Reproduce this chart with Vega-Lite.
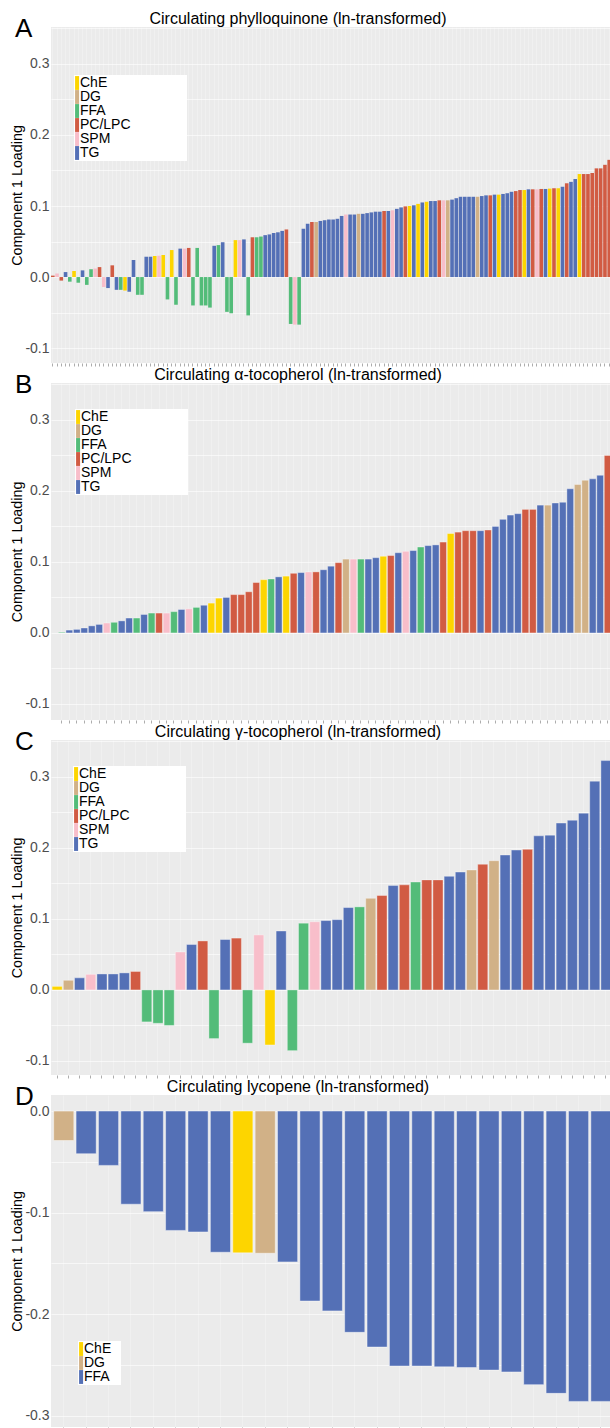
{
  "$schema": "https://vega.github.io/schema/vega-lite/v6.json",
  "padding": {"left": 10, "top": 11, "right": 0, "bottom": 0},
  "spacing": 0,
  "config": {
    "font": "Liberation Sans",
    "view": {"fill": "#EBEBEB", "stroke": null},
    "axisY": {"labelFontSize": 14, "labelColor": "#4D4D4D", "labelPadding": 2, "ticks": false, "domain": false, "titleFontSize": 14.3, "titleFontWeight": "normal", "titleColor": "black", "titlePadding": 0, "gridColor": "#ffffff", "gridOpacity": 0.6, "gridWidth": 1},
    "axisX": {"ticks": true, "tickSize": 3, "tickColor": "#8a8a8a", "tickWidth": 0.7, "labels": false, "domain": false, "gridColor": "#ffffff", "gridOpacity": 0.45, "gridWidth": 0.6, "titleFontSize": 26, "titleFontWeight": "normal", "titleColor": "black", "titleAlign": "left", "titleBaseline": "alphabetic", "titleAngle": 0, "titleX": -36.4},
    "title": {"fontSize": 16, "fontWeight": "normal", "color": "black", "anchor": "middle", "frame": "group"},
    "legend": {"labelFontSize": 14, "labelColor": "black", "symbolSize": 192, "symbolStrokeWidth": 0, "symbolOpacity": 1, "labelOffset": -9, "padding": 1, "fillColor": "white", "rowPadding": -0.5, "labelLimit": 300}
  },
  "resolve": {"scale": {"color": "independent", "x": "independent", "y": "independent"}, "legend": {"color": "independent"}},
  "datasets": {
    "A": [
      {"i":1,"v":0.002,"c":"PC/LPC"},{"i":2,"v":0.005,"c":"SPM"},{"i":3,"v":-0.005,"c":"PC/LPC"},{"i":4,"v":0.007,"c":"TG"},{"i":5,"v":-0.0065,"c":"FFA"},
      {"i":6,"v":0.0085,"c":"ChE"},{"i":7,"v":-0.008,"c":"FFA"},{"i":8,"v":0.0094,"c":"TG"},{"i":9,"v":-0.011,"c":"FFA"},{"i":10,"v":0.011,"c":"FFA"},
      {"i":11,"v":0.012,"c":"SPM"},{"i":12,"v":0.014,"c":"PC/LPC"},{"i":13,"v":-0.014,"c":"SPM"},{"i":14,"v":-0.0155,"c":"TG"},{"i":15,"v":0.0165,"c":"PC/LPC"},
      {"i":16,"v":-0.018,"c":"TG"},{"i":17,"v":-0.018,"c":"FFA"},{"i":18,"v":-0.019,"c":"ChE"},{"i":19,"v":-0.0207,"c":"TG"},{"i":20,"v":0.024,"c":"TG"},
      {"i":21,"v":-0.025,"c":"FFA"},{"i":22,"v":-0.025,"c":"FFA"},{"i":23,"v":0.0286,"c":"TG"},{"i":24,"v":0.0286,"c":"TG"},{"i":25,"v":0.0296,"c":"ChE"},
      {"i":26,"v":0.03,"c":"SPM"},{"i":27,"v":0.031,"c":"ChE"},{"i":28,"v":-0.0315,"c":"FFA"},{"i":29,"v":0.038,"c":"ChE"},{"i":30,"v":-0.039,"c":"FFA"},
      {"i":31,"v":0.04,"c":"TG"},{"i":32,"v":0.04,"c":"SPM"},{"i":33,"v":0.041,"c":"PC/LPC"},{"i":34,"v":-0.04,"c":"FFA"},{"i":35,"v":0.041,"c":"FFA"},
      {"i":36,"v":-0.04,"c":"FFA"},{"i":37,"v":-0.04,"c":"FFA"},{"i":38,"v":-0.043,"c":"FFA"},{"i":39,"v":0.044,"c":"TG"},{"i":40,"v":0.045,"c":"FFA"},
      {"i":41,"v":0.049,"c":"TG"},{"i":42,"v":-0.049,"c":"FFA"},{"i":43,"v":-0.051,"c":"FFA"},{"i":44,"v":0.052,"c":"ChE"},{"i":45,"v":0.052,"c":"SPM"},
      {"i":46,"v":0.053,"c":"TG"},{"i":47,"v":-0.054,"c":"FFA"},{"i":48,"v":0.056,"c":"PC/LPC"},{"i":49,"v":0.056,"c":"FFA"},{"i":50,"v":0.057,"c":"FFA"},
      {"i":51,"v":0.059,"c":"TG"},{"i":52,"v":0.06,"c":"TG"},{"i":53,"v":0.062,"c":"TG"},{"i":54,"v":0.063,"c":"TG"},{"i":55,"v":0.065,"c":"TG"},
      {"i":56,"v":0.067,"c":"PC/LPC"},{"i":57,"v":-0.066,"c":"FFA"},{"i":58,"v":-0.067,"c":"SPM"},{"i":59,"v":-0.067,"c":"FFA"},{"i":60,"v":0.068,"c":"TG"},
      {"i":61,"v":0.075,"c":"TG"},{"i":62,"v":0.0775,"c":"PC/LPC"},{"i":63,"v":0.0775,"c":"DG"},{"i":64,"v":0.079,"c":"TG"},{"i":65,"v":0.08,"c":"TG"},
      {"i":66,"v":0.081,"c":"TG"},{"i":67,"v":0.081,"c":"TG"},{"i":68,"v":0.082,"c":"TG"},{"i":69,"v":0.086,"c":"TG"},{"i":70,"v":0.088,"c":"SPM"},
      {"i":71,"v":0.088,"c":"TG"},{"i":72,"v":0.088,"c":"TG"},{"i":73,"v":0.089,"c":"DG"},{"i":74,"v":0.089,"c":"TG"},{"i":75,"v":0.09,"c":"TG"},
      {"i":76,"v":0.091,"c":"TG"},{"i":77,"v":0.092,"c":"TG"},{"i":78,"v":0.092,"c":"TG"},{"i":79,"v":0.093,"c":"PC/LPC"},{"i":80,"v":0.093,"c":"TG"},
      {"i":81,"v":0.094,"c":"SPM"},{"i":82,"v":0.096,"c":"TG"},{"i":83,"v":0.098,"c":"TG"},{"i":84,"v":0.0995,"c":"PC/LPC"},{"i":85,"v":0.1,"c":"ChE"},
      {"i":86,"v":0.101,"c":"TG"},{"i":87,"v":0.103,"c":"ChE"},{"i":88,"v":0.105,"c":"TG"},{"i":89,"v":0.106,"c":"ChE"},{"i":90,"v":0.107,"c":"TG"},
      {"i":91,"v":0.107,"c":"TG"},{"i":92,"v":0.108,"c":"PC/LPC"},{"i":93,"v":0.108,"c":"SPM"},{"i":94,"v":0.108,"c":"DG"},{"i":95,"v":0.109,"c":"TG"},
      {"i":96,"v":0.111,"c":"TG"},{"i":97,"v":0.113,"c":"TG"},{"i":98,"v":0.113,"c":"TG"},{"i":99,"v":0.113,"c":"TG"},{"i":100,"v":0.113,"c":"TG"},
      {"i":101,"v":0.113,"c":"DG"},{"i":102,"v":0.114,"c":"TG"},{"i":103,"v":0.115,"c":"TG"},{"i":104,"v":0.115,"c":"PC/LPC"},{"i":105,"v":0.116,"c":"TG"},
      {"i":106,"v":0.116,"c":"ChE"},{"i":107,"v":0.117,"c":"TG"},{"i":108,"v":0.118,"c":"TG"},{"i":109,"v":0.12,"c":"TG"},{"i":110,"v":0.121,"c":"PC/LPC"},
      {"i":111,"v":0.1225,"c":"PC/LPC"},{"i":112,"v":0.1225,"c":"ChE"},{"i":113,"v":0.1235,"c":"TG"},{"i":114,"v":0.1235,"c":"PC/LPC"},{"i":115,"v":0.1235,"c":"SPM"},
      {"i":116,"v":0.124,"c":"PC/LPC"},{"i":117,"v":0.124,"c":"TG"},{"i":118,"v":0.1245,"c":"ChE"},{"i":119,"v":0.125,"c":"PC/LPC"},{"i":120,"v":0.125,"c":"ChE"},
      {"i":121,"v":0.127,"c":"TG"},{"i":122,"v":0.132,"c":"PC/LPC"},{"i":123,"v":0.134,"c":"TG"},{"i":124,"v":0.138,"c":"TG"},{"i":125,"v":0.145,"c":"ChE"},
      {"i":126,"v":0.145,"c":"PC/LPC"},{"i":127,"v":0.145,"c":"PC/LPC"},{"i":128,"v":0.1465,"c":"PC/LPC"},{"i":129,"v":0.153,"c":"PC/LPC"},{"i":130,"v":0.153,"c":"PC/LPC"},
      {"i":131,"v":0.158,"c":"PC/LPC"},{"i":132,"v":0.165,"c":"PC/LPC"}
    ],
    "B": [
      {"i":1,"v":0.001,"c":"FFA"},{"i":2,"v":0.004,"c":"TG"},{"i":3,"v":0.005,"c":"TG"},{"i":4,"v":0.007,"c":"TG"},{"i":5,"v":0.01,"c":"TG"},
      {"i":6,"v":0.012,"c":"TG"},{"i":7,"v":0.014,"c":"SPM"},{"i":8,"v":0.015,"c":"FFA"},{"i":9,"v":0.017,"c":"TG"},{"i":10,"v":0.021,"c":"TG"},
      {"i":11,"v":0.021,"c":"FFA"},{"i":12,"v":0.026,"c":"TG"},{"i":13,"v":0.028,"c":"FFA"},{"i":14,"v":0.028,"c":"PC/LPC"},{"i":15,"v":0.028,"c":"SPM"},
      {"i":16,"v":0.03,"c":"FFA"},{"i":17,"v":0.033,"c":"TG"},{"i":18,"v":0.034,"c":"SPM"},{"i":19,"v":0.036,"c":"FFA"},{"i":20,"v":0.039,"c":"TG"},
      {"i":21,"v":0.042,"c":"ChE"},{"i":22,"v":0.049,"c":"ChE"},{"i":23,"v":0.05,"c":"TG"},{"i":24,"v":0.054,"c":"PC/LPC"},{"i":25,"v":0.054,"c":"PC/LPC"},
      {"i":26,"v":0.058,"c":"PC/LPC"},{"i":27,"v":0.071,"c":"PC/LPC"},{"i":28,"v":0.075,"c":"ChE"},{"i":29,"v":0.076,"c":"FFA"},{"i":30,"v":0.079,"c":"TG"},
      {"i":31,"v":0.08,"c":"ChE"},{"i":32,"v":0.084,"c":"PC/LPC"},{"i":33,"v":0.085,"c":"TG"},{"i":34,"v":0.086,"c":"SPM"},{"i":35,"v":0.086,"c":"PC/LPC"},
      {"i":36,"v":0.089,"c":"TG"},{"i":37,"v":0.094,"c":"TG"},{"i":38,"v":0.099,"c":"PC/LPC"},{"i":39,"v":0.104,"c":"DG"},{"i":40,"v":0.104,"c":"SPM"},
      {"i":41,"v":0.104,"c":"FFA"},{"i":42,"v":0.104,"c":"TG"},{"i":43,"v":0.106,"c":"TG"},{"i":44,"v":0.108,"c":"ChE"},{"i":45,"v":0.109,"c":"PC/LPC"},
      {"i":46,"v":0.113,"c":"TG"},{"i":47,"v":0.115,"c":"SPM"},{"i":48,"v":0.116,"c":"TG"},{"i":49,"v":0.121,"c":"FFA"},{"i":50,"v":0.123,"c":"TG"},
      {"i":51,"v":0.124,"c":"TG"},{"i":52,"v":0.128,"c":"PC/LPC"},{"i":53,"v":0.14,"c":"ChE"},{"i":54,"v":0.142,"c":"PC/LPC"},{"i":55,"v":0.144,"c":"PC/LPC"},
      {"i":56,"v":0.144,"c":"PC/LPC"},{"i":57,"v":0.144,"c":"TG"},{"i":58,"v":0.145,"c":"PC/LPC"},{"i":59,"v":0.15,"c":"TG"},{"i":60,"v":0.16,"c":"TG"},
      {"i":61,"v":0.166,"c":"TG"},{"i":62,"v":0.168,"c":"TG"},{"i":63,"v":0.174,"c":"PC/LPC"},{"i":64,"v":0.174,"c":"PC/LPC"},{"i":65,"v":0.18,"c":"TG"},
      {"i":66,"v":0.18,"c":"DG"},{"i":67,"v":0.183,"c":"TG"},{"i":68,"v":0.184,"c":"TG"},{"i":69,"v":0.203,"c":"TG"},{"i":70,"v":0.209,"c":"DG"},
      {"i":71,"v":0.215,"c":"DG"},{"i":72,"v":0.217,"c":"TG"},{"i":73,"v":0.222,"c":"TG"},{"i":74,"v":0.25,"c":"PC/LPC"}
    ],
    "C": [
      {"i":1,"v":0.005,"c":"ChE"},{"i":2,"v":0.0136,"c":"DG"},{"i":3,"v":0.017,"c":"TG"},{"i":4,"v":0.022,"c":"SPM"},{"i":5,"v":0.0225,"c":"TG"},
      {"i":6,"v":0.0225,"c":"TG"},{"i":7,"v":0.024,"c":"TG"},{"i":8,"v":0.026,"c":"PC/LPC"},{"i":9,"v":-0.045,"c":"FFA"},{"i":10,"v":-0.047,"c":"FFA"},
      {"i":11,"v":-0.05,"c":"FFA"},{"i":12,"v":0.0535,"c":"SPM"},{"i":13,"v":0.064,"c":"TG"},{"i":14,"v":0.069,"c":"PC/LPC"},{"i":15,"v":-0.0685,"c":"FFA"},
      {"i":16,"v":0.071,"c":"TG"},{"i":17,"v":0.073,"c":"PC/LPC"},{"i":18,"v":-0.075,"c":"FFA"},{"i":19,"v":0.0775,"c":"SPM"},{"i":20,"v":-0.0775,"c":"ChE"},
      {"i":21,"v":0.083,"c":"TG"},{"i":22,"v":-0.0855,"c":"FFA"},{"i":23,"v":0.094,"c":"FFA"},{"i":24,"v":0.096,"c":"SPM"},{"i":25,"v":0.0977,"c":"TG"},
      {"i":26,"v":0.099,"c":"TG"},{"i":27,"v":0.116,"c":"TG"},{"i":28,"v":0.117,"c":"FFA"},{"i":29,"v":0.129,"c":"DG"},{"i":30,"v":0.133,"c":"PC/LPC"},
      {"i":31,"v":0.147,"c":"TG"},{"i":32,"v":0.148,"c":"PC/LPC"},{"i":33,"v":0.152,"c":"FFA"},{"i":34,"v":0.155,"c":"PC/LPC"},{"i":35,"v":0.155,"c":"PC/LPC"},
      {"i":36,"v":0.16,"c":"TG"},{"i":37,"v":0.166,"c":"TG"},{"i":38,"v":0.169,"c":"DG"},{"i":39,"v":0.177,"c":"PC/LPC"},{"i":40,"v":0.182,"c":"DG"},
      {"i":41,"v":0.19,"c":"TG"},{"i":42,"v":0.197,"c":"TG"},{"i":43,"v":0.198,"c":"PC/LPC"},{"i":44,"v":0.217,"c":"TG"},{"i":45,"v":0.218,"c":"TG"},
      {"i":46,"v":0.235,"c":"TG"},{"i":47,"v":0.239,"c":"TG"},{"i":48,"v":0.249,"c":"TG"},{"i":49,"v":0.294,"c":"TG"},{"i":50,"v":0.323,"c":"TG"}
    ],
    "D": [
      {"i":1,"v":-0.029,"c":"DG"},{"i":2,"v":-0.042,"c":"FFA"},{"i":3,"v":-0.0535,"c":"FFA"},{"i":4,"v":-0.0917,"c":"FFA"},{"i":5,"v":-0.099,"c":"FFA"},
      {"i":6,"v":-0.1175,"c":"FFA"},{"i":7,"v":-0.119,"c":"FFA"},{"i":8,"v":-0.139,"c":"FFA"},{"i":9,"v":-0.1396,"c":"ChE"},{"i":10,"v":-0.14,"c":"DG"},
      {"i":11,"v":-0.1485,"c":"FFA"},{"i":12,"v":-0.187,"c":"FFA"},{"i":13,"v":-0.1967,"c":"FFA"},{"i":14,"v":-0.2178,"c":"FFA"},{"i":15,"v":-0.2323,"c":"FFA"},
      {"i":16,"v":-0.251,"c":"FFA"},{"i":17,"v":-0.251,"c":"FFA"},{"i":18,"v":-0.2518,"c":"FFA"},{"i":19,"v":-0.2525,"c":"FFA"},{"i":20,"v":-0.255,"c":"FFA"},
      {"i":21,"v":-0.2568,"c":"FFA"},{"i":22,"v":-0.2693,"c":"FFA"},{"i":23,"v":-0.2779,"c":"FFA"},{"i":24,"v":-0.2858,"c":"FFA"},{"i":25,"v":-0.2858,"c":"FFA"}
    ]
  },
  "vconcat": [
    {
      "data": {"name": "A"},
      "width": 560, "height": 336,
      "title": {"text": "Circulating phylloquinone (ln-transformed)", "dx": -33, "offset": -12},
      "mark": {"type": "bar"},
      "encoding": {
        "x": {"field": "i", "type": "ordinal", "scale": {"paddingInner": 0.15, "paddingOuter": 0}, "axis": {"title": "A", "titleY": -327, "grid": true}},
        "y": {"field": "v", "type": "quantitative", "scale": {"domain": [-0.121, 0.352], "nice": false},
          "axis": {"title": "Component 1 Loading", "values": [-0.1, -0.05, 0, 0.05, 0.1, 0.15, 0.2, 0.25, 0.3, 0.35], "labelExpr": "abs(datum.value*10 - round(datum.value*10)) > 0.001 ? '' : (datum.value < -0.0001 ? '-' : '') + format(abs(datum.value), '.1f')"}},
        "color": {"field": "c", "type": "nominal",
          "scale": {"domain": ["ChE", "DG", "FFA", "PC/LPC", "SPM", "TG"], "range": ["#FDD500", "#D1B187", "#53BC79", "#D15B43", "#F8BECA", "#5470B6"]},
          "legend": {"title": null, "orient": "none", "legendX": 23, "legendY": 48, "symbolType": "M-1,-1H-0.42V1H-1Z", "labelExpr": "datum.label + '\u00a0\u00a0\u00a0\u00a0\u00a0\u00a0\u00a0\u00a0\u00a0\u00a0\u00a0\u00a0\u00a0\u00a0\u200b'"}}
      }
    },
    {
      "data": {"name": "B"},
      "width": 560, "height": 337,
      "title": {"text": "Circulating α-tocopherol (ln-transformed)", "dx": -33, "offset": -12},
      "mark": {"type": "bar", "stroke": "#ffffff", "strokeWidth": 0.7, "strokeOpacity": 0.5},
      "encoding": {
        "x": {"field": "i", "type": "ordinal", "scale": {"paddingInner": 0.1, "paddingOuter": 0.5, "align": 1}, "axis": {"title": "B", "titleY": -328, "grid": true}},
        "y": {"field": "v", "type": "quantitative", "scale": {"domain": [-0.1226, 0.352], "nice": false},
          "axis": {"title": "Component 1 Loading", "values": [-0.1, -0.05, 0, 0.05, 0.1, 0.15, 0.2, 0.25, 0.3, 0.35], "labelExpr": "abs(datum.value*10 - round(datum.value*10)) > 0.001 ? '' : (datum.value < -0.0001 ? '-' : '') + format(abs(datum.value), '.1f')"}},
        "color": {"field": "c", "type": "nominal",
          "scale": {"domain": ["ChE", "DG", "FFA", "PC/LPC", "SPM", "TG"], "range": ["#FDD500", "#D1B187", "#53BC79", "#D15B43", "#F8BECA", "#5470B6"]},
          "legend": {"title": null, "orient": "none", "legendX": 24, "legendY": 26, "symbolType": "M-1,-1H-0.42V1H-1Z", "labelExpr": "datum.label + '\u00a0\u00a0\u00a0\u00a0\u00a0\u00a0\u00a0\u00a0\u00a0\u00a0\u00a0\u00a0\u00a0\u00a0\u200b'"}}
      }
    },
    {
      "data": {"name": "C"},
      "width": 560, "height": 335,
      "title": {"text": "Circulating γ-tocopherol (ln-transformed)", "dx": -33, "offset": -12},
      "mark": {"type": "bar", "stroke": "#ffffff", "strokeWidth": 0.7, "strokeOpacity": 0.5},
      "encoding": {
        "x": {"field": "i", "type": "ordinal", "scale": {"paddingInner": 0.1, "paddingOuter": 0.05, "align": 1}, "axis": {"title": "C", "titleY": -326, "grid": true}},
        "y": {"field": "v", "type": "quantitative", "scale": {"domain": [-0.1198, 0.352], "nice": false},
          "axis": {"title": "Component 1 Loading", "values": [-0.1, -0.05, 0, 0.05, 0.1, 0.15, 0.2, 0.25, 0.3, 0.35], "labelExpr": "abs(datum.value*10 - round(datum.value*10)) > 0.001 ? '' : (datum.value < -0.0001 ? '-' : '') + format(abs(datum.value), '.1f')"}},
        "color": {"field": "c", "type": "nominal",
          "scale": {"domain": ["ChE", "DG", "FFA", "PC/LPC", "SPM", "TG"], "range": ["#FDD500", "#D1B187", "#53BC79", "#D15B43", "#F8BECA", "#5470B6"]},
          "legend": {"title": null, "orient": "none", "legendX": 22, "legendY": 26, "symbolType": "M-1,-1H-0.42V1H-1Z", "labelExpr": "datum.label + '\u00a0\u00a0\u00a0\u00a0\u00a0\u00a0\u00a0\u00a0\u00a0\u00a0\u00a0\u00a0\u00a0\u00a0\u200b'"}}
      }
    },
    {
      "data": {"name": "D"},
      "width": 560, "height": 332,
      "title": {"text": "Circulating lycopene (ln-transformed)", "dx": -33, "offset": -12},
      "mark": {"type": "bar", "stroke": "#ffffff", "strokeWidth": 0.8, "strokeOpacity": 0.55},
      "encoding": {
        "x": {"field": "i", "type": "ordinal", "scale": {"paddingInner": 0.1, "paddingOuter": 0.06, "align": 1}, "axis": {"title": "D", "titleY": -323, "grid": true}},
        "y": {"field": "v", "type": "quantitative", "scale": {"domain": [-0.311, 0.0158], "nice": false},
          "axis": {"title": "Component 1 Loading", "values": [-0.3, -0.25, -0.2, -0.15, -0.1, -0.05, 0], "labelExpr": "abs(datum.value*10 - round(datum.value*10)) > 0.001 ? '' : (datum.value < -0.0001 ? '-' : '') + format(abs(datum.value), '.1f')"}},
        "color": {"field": "c", "type": "nominal",
          "scale": {"domain": ["ChE", "DG", "FFA"], "range": ["#FDD500", "#D1B187", "#5470B6"]},
          "legend": {"title": null, "orient": "none", "legendX": 27, "legendY": 246, "symbolType": "M-1,-1H-0.42V1H-1Z", "labelExpr": "datum.label + '\u00a0\u00a0\u200b'"}}
      }
    }
  ]
}
